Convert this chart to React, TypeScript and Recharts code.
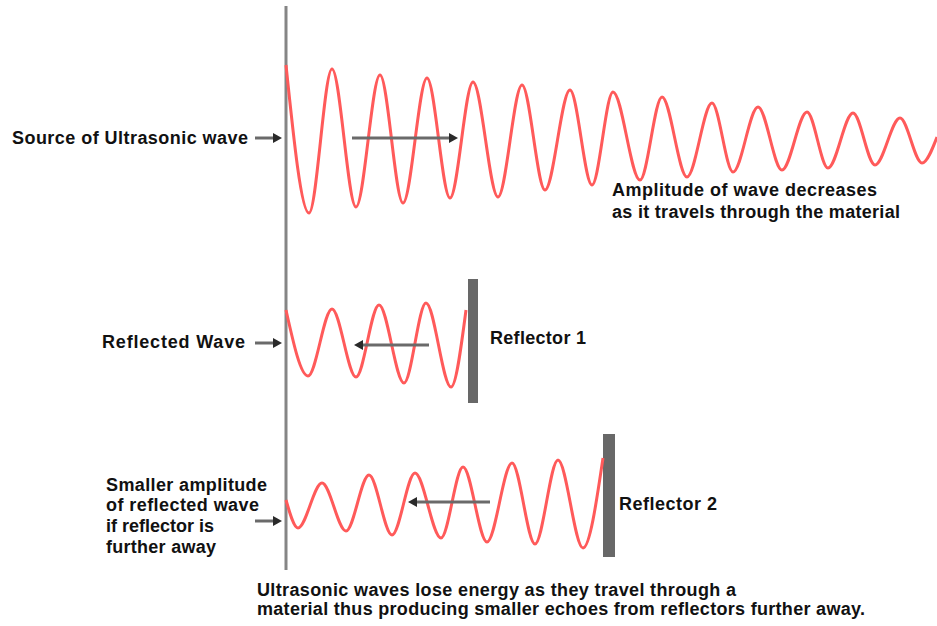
import { LineChart, Line, XAxis, YAxis, ReferenceLine, ReferenceArea, Customized } from 'recharts';

// distance from the transducer face, and wave amplitude around each wave's own baseline
const sourceDist = [0, 23, 46, 70, 94, 117, 141, 164, 187, 212, 236, 259, 284, 306, 327, 354, 376, 401, 426, 447, 472, 496, 521, 542, 567, 589, 614, 636, 651];
const sourceAmp = [75, -73, 71, -67, 65, -63, 62, -58, 58, -57, 55, -50, 50, -45, 48, -40, 43, -37, 37, -32, 33, -30, 28, -28, 27, -25, 22, -23, 3];

const echo1Dist = [0, 22, 46, 70, 93, 118, 140, 165, 180];
const echo1Amp = [35, -31, 36, -32, 40, -38, 42, -42, 35];

const echo2Dist = [0, 12, 36, 60, 83, 106, 129, 155, 177, 201, 226, 249, 272, 297, 317];
const echo2Amp = [3, -25, 20, -28, 28, -32, 30, -35, 36, -39, 40, -41, 43, -45, 45];

// reflectors: [from, to] distance, [bottom, top] amplitude
const reflector1 = { dist: [182, 192], amp: [-58, 66] };
const reflector2 = { dist: [317, 329], amp: [-54, 69] };

// arrows: [start, end] distance, amplitude level
const arrows = [
  { axis: 'src', from: 66, to: 172, level: 2 },
  { axis: 'src', from: -31, to: -4, level: 2 },
  { axis: 'r1', from: 143, to: 68, level: 0 },
  { axis: 'r1', from: -31, to: -4, level: 2 },
  { axis: 'r2', from: 204, to: 122, level: 1 },
  { axis: 'r2', from: -31, to: -4, level: -18 },
];

const toRows = (dist: number[], amp: number[]) => dist.map((d, i) => ({ d, a: amp[i] }));

const sourceData = toRows(sourceDist, sourceAmp);
const echo1Data = toRows(echo1Dist, echo1Amp);
const echo2Data = toRows(echo2Dist, echo2Amp);

const W = 937;
const H = 626;
const WAVE = '#ff5a5a';
const FONT = '"Liberation Sans", Arial, sans-serif';

const ArrowShape = (props: any) => {
  const { x1, y1, x2, y2 } = props;
  const dir = x2 > x1 ? 1 : -1;
  const tip = x2;
  const base = tip - dir * 9;
  return (
    <g>
      <line x1={x1} y1={y1} x2={base} y2={y2} stroke="#6a6a6a" strokeWidth={3} />
      <polygon points={`${tip},${y2} ${base},${y2 - 5} ${base},${y2 + 5}`} fill="#2a2a2a" />
    </g>
  );
};

const labels = [
  { text: 'Source of Ultrasonic wave', x: 12, y: 138, w: 236 },
  { text: 'Amplitude of wave decreases', x: 612, y: 190, w: 265 },
  { text: 'as it travels through the material', x: 612, y: 212, w: 288 },
  { text: 'Reflected Wave', x: 102, y: 342, w: 143 },
  { text: 'Reflector 1', x: 490, y: 338, w: 96 },
  { text: 'Reflector 2', x: 619, y: 504, w: 98 },
  { text: 'Smaller amplitude', x: 106, y: 485, w: 161 },
  { text: 'of reflected wave', x: 106, y: 505, w: 153 },
  { text: 'if reflector is', x: 106, y: 526, w: 108 },
  { text: 'further away', x: 106, y: 547, w: 110 },
  { text: 'Ultrasonic waves lose energy as they travel through a', x: 257, y: 590, w: 479 },
  { text: 'material thus producing smaller echoes from reflectors further away.', x: 257, y: 609, w: 608 },
];

const Labels = () => (
  <g>
    {labels.map((l) => (
      <text
        key={l.text}
        x={l.x}
        y={l.y}
        dominantBaseline="central"
        textLength={l.w}
        fontFamily={FONT}
        fontWeight="bold"
        fontSize={18}
        fill="#111"
      >
        {l.text}
      </text>
    ))}
  </g>
);

export default function App() {
  return (
    <div style={{ position: 'absolute', left: 0, top: 0, width: W, height: H, background: '#fff' }}>
      <LineChart width={W} height={H} margin={{ top: 0, right: 0, bottom: 0, left: 0 }}>
        <XAxis type="number" dataKey="d" domain={[-286, 651]} allowDataOverflow hide />
        <YAxis yAxisId="src" type="number" domain={[-486, 140]} allowDataOverflow hide />
        <YAxis yAxisId="r1" type="number" domain={[-281, 345]} allowDataOverflow hide />
        <YAxis yAxisId="r2" type="number" domain={[-123, 503]} allowDataOverflow hide />

        <ReferenceLine
          yAxisId="src"
          segment={[{ x: 0, y: 134 }, { x: 0, y: -430 }]}
          stroke="#858585"
          strokeWidth={3}
        />

        <ReferenceArea
          yAxisId="r1"
          x1={reflector1.dist[0]}
          x2={reflector1.dist[1]}
          y1={reflector1.amp[0]}
          y2={reflector1.amp[1]}
          fill="#686868"
          fillOpacity={1}
          stroke="none"
        />
        <ReferenceArea
          yAxisId="r2"
          x1={reflector2.dist[0]}
          x2={reflector2.dist[1]}
          y1={reflector2.amp[0]}
          y2={reflector2.amp[1]}
          fill="#686868"
          fillOpacity={1}
          stroke="none"
        />

        <Line yAxisId="src" data={sourceData} dataKey="a" type="monotone" stroke={WAVE} strokeWidth={3} dot={false} activeDot={false} isAnimationActive={false} />
        <Line yAxisId="r1" data={echo1Data} dataKey="a" type="monotone" stroke={WAVE} strokeWidth={3} dot={false} activeDot={false} isAnimationActive={false} />
        <Line yAxisId="r2" data={echo2Data} dataKey="a" type="monotone" stroke={WAVE} strokeWidth={3} dot={false} activeDot={false} isAnimationActive={false} />

        {arrows.map((ar, i) => (
          <ReferenceLine
            key={i}
            yAxisId={ar.axis}
            segment={[{ x: ar.from, y: ar.level }, { x: ar.to, y: ar.level }]}
            shape={ArrowShape}
          />
        ))}

        <Customized component={Labels} />
      </LineChart>
    </div>
  );
}
